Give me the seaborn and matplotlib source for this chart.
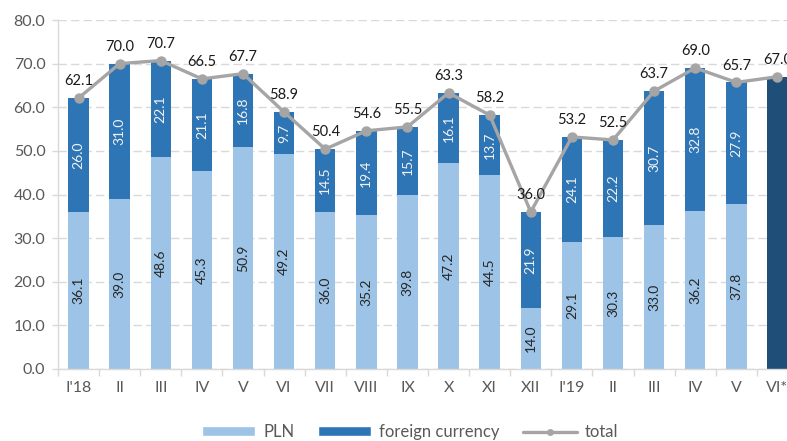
import numpy as np
import pandas as pd
import matplotlib
matplotlib.use("Agg")
import matplotlib.pyplot as plt
import seaborn as sns
from matplotlib.patches import Patch
from matplotlib.lines import Line2D

categories = ["I'18", "II", "III", "IV", "V", "VI", "VII", "VIII", "IX", "X", "XI", "XII",
              "I'19", "II", "III", "IV", "V", "VI*"]
pln = [36.1, 39.0, 48.6, 45.3, 50.9, 49.2, 36.0, 35.2, 39.8, 47.2, 44.5, 14.0,
       29.1, 30.3, 33.0, 36.2, 37.8, np.nan]
foreign = [26.0, 31.0, 22.1, 21.1, 16.8, 9.7, 14.5, 19.4, 15.7, 16.1, 13.7, 21.9,
           24.1, 22.2, 30.7, 32.8, 27.9, np.nan]
total = [62.1, 70.0, 70.7, 66.5, 67.7, 58.9, 50.4, 54.6, 55.5, 63.3, 58.2, 36.0,
         53.2, 52.5, 63.7, 69.0, 65.7, 67.0]

C_PLN = "#9DC3E6"
C_FC = "#2E75B6"
C_LAST = "#1F4E79"
C_TOT = "#A5A5A5"
TXT = "#595959"

sns.set_theme(style="white")
plt.rcParams["font.family"] = ["Lato", "DejaVu Sans"]

n = len(categories)
keys = [f"{i}" for i in range(n)]
df = pd.DataFrame({"key": keys, "pln": pln, "foreign": foreign, "total": total})

fig = plt.figure(figsize=(7.87, 4.41), dpi=100)
ax = fig.add_axes([58 / 787, 1 - 369 / 441, 740 / 787, 349 / 441])

# gridlines
ax.set_axisbelow(True)
ax.yaxis.grid(True, color="#D9D9D9", linestyle=(0, (6, 3)), linewidth=1.0)

bar_colors = [C_FC] * (n - 1) + [C_LAST]
sns.barplot(data=df, x="key", y="total", hue="key", palette=bar_colors, legend=False,
            width=0.5, ax=ax, saturation=1, linewidth=0)
sns.barplot(data=df, x="key", y="pln", color=C_PLN, width=0.5, ax=ax,
            saturation=1, linewidth=0)

x = np.arange(n)
ax.plot(x, total, color=C_TOT, linewidth=2.4, marker="o", markersize=6.5,
        markerfacecolor=C_TOT, markeredgecolor=C_TOT, zorder=5)

# labels
for i in range(n):
    ax.annotate(f"{total[i]:.1f}", (i, total[i]), xytext=(0, 7), textcoords="offset points",
                ha="center", va="bottom", fontsize=10.5, color="#1a1a1a", zorder=6)
    if not np.isnan(pln[i]):
        ax.text(i, pln[i] / 2, f"{pln[i]:.1f}", rotation=90, ha="center", va="center",
                fontsize=10, color="#262626", zorder=6)
        ax.text(i, pln[i] + foreign[i] / 2, f"{foreign[i]:.1f}", rotation=90, ha="center",
                va="center", fontsize=10, color="#F2F2F2", zorder=6)

ax.set_xlim(-0.5, n - 0.5)
ax.set_ylim(0, 80)
ax.set_yticks(np.arange(0, 81, 10))
ax.set_yticklabels([f"{v:.1f}" for v in np.arange(0, 81, 10)])
ax.set_xticks(x)
ax.set_xticklabels(categories)
ax.set_xticks(np.arange(-0.5, n, 1), minor=True)
ax.set_xlabel("")
ax.set_ylabel("")

ax.tick_params(axis="x", which="major", length=0, pad=9, labelsize=11.5, labelcolor=TXT)
ax.tick_params(axis="x", which="minor", length=5, color="#D9D9D9", width=1, direction="out", bottom=True)
ax.tick_params(axis="y", length=4, color="#D9D9D9", width=1, pad=5, labelsize=11.5,
               labelcolor=TXT, left=True)

for s in ["top", "right"]:
    ax.spines[s].set_visible(False)
for s in ["left", "bottom"]:
    ax.spines[s].set_color("#D9D9D9")
    ax.spines[s].set_linewidth(1)

handles = [Patch(facecolor=C_PLN, label="PLN"),
           Patch(facecolor=C_FC, label="foreign currency"),
           Line2D([0], [0], color=C_TOT, linewidth=2.4, marker="o", markersize=4, label="total")]
fig.legend(handles=handles, loc="center", bbox_to_anchor=(410 / 787, 1 - 432 / 441), ncol=3,
           frameon=False, fontsize=12, handlelength=3.2, handleheight=0.55, columnspacing=1.4,
           handletextpad=0.5, labelcolor=TXT)

fig.savefig("out.png", dpi=100)
